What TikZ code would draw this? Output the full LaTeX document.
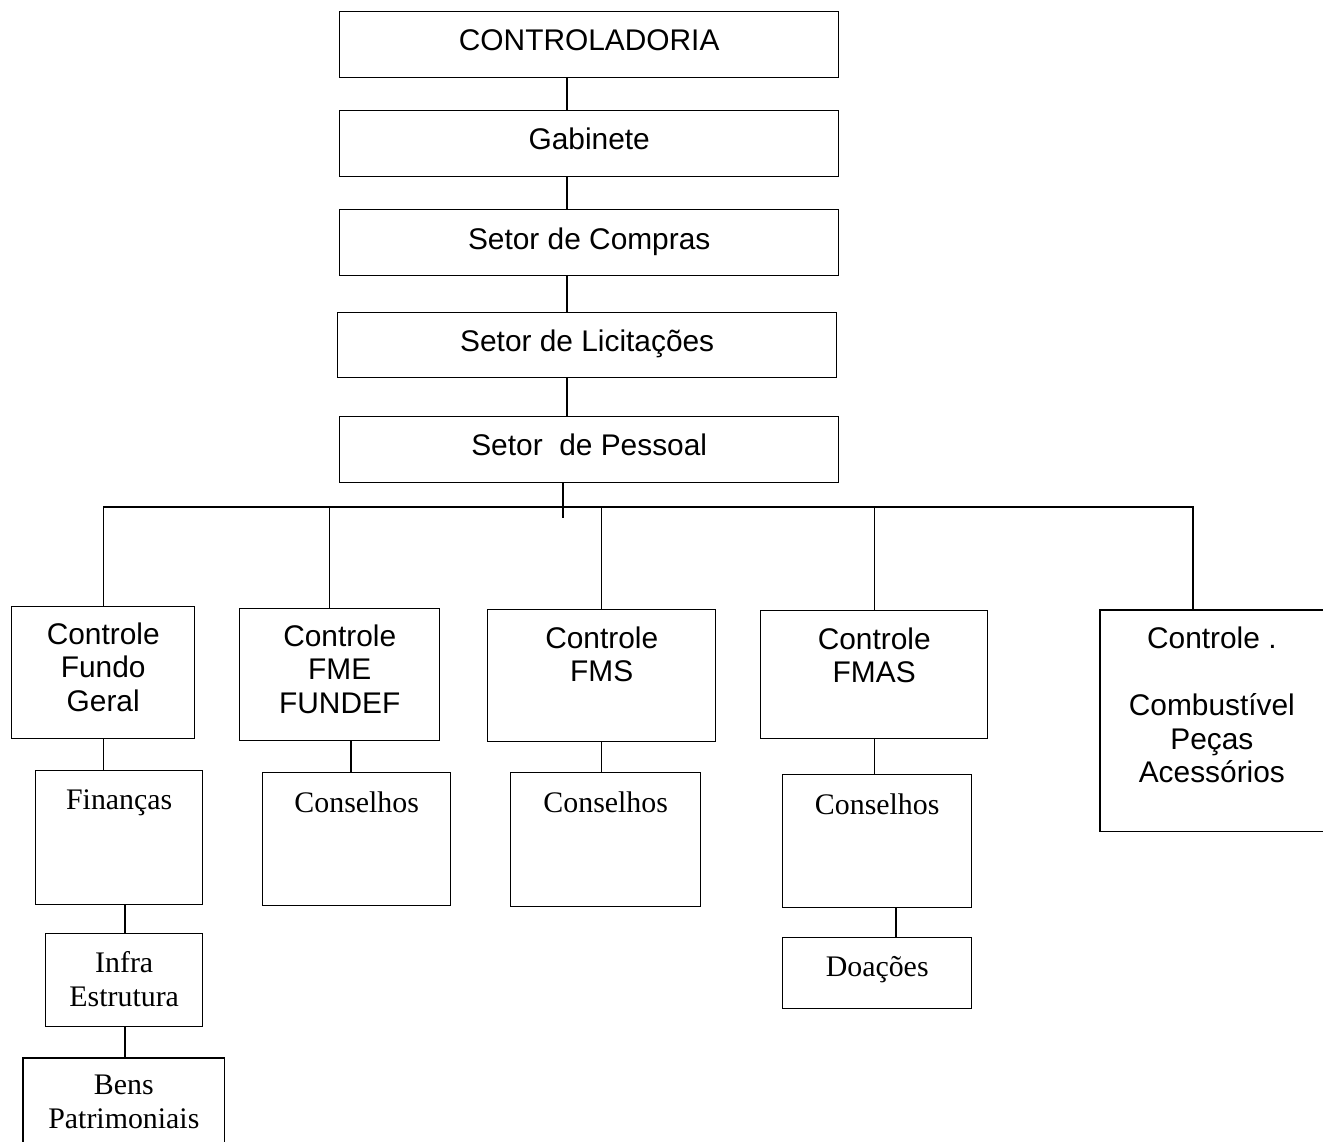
\documentclass[tikz,border=0pt]{standalone}
\usepackage{fontspec}
\setmainfont{Liberation Serif}
\setsansfont{Liberation Sans}
\newlength\pxu
\setlength\pxu{0.02cm}
\newcommand\cellbox[4]{\parbox[c][#2\pxu][t]{#1\pxu}{\centering\vspace*{#3\pxu}#4\par}}
\tikzset{
  orgbox/.style={draw, line width=0.8pt, inner sep=0pt, anchor=north west,
    font=\sffamily\fontsize{17}{19}\selectfont},
  serbox/.style={orgbox, font=\rmfamily\fontsize{17}{19}\selectfont},
  openbox/.style={inner sep=0pt, anchor=north west,
    font=\sffamily\fontsize{17}{19}\selectfont},
  openser/.style={openbox, font=\rmfamily\fontsize{17}{19}\selectfont},
  link/.style={line width=0.8pt}
}
\begin{document}
\begin{tikzpicture}[x=0.02cm, y=-0.02cm]
\useasboundingbox (0,0) rectangle (1323,1142);

% top chain
\node[orgbox] (ctr) at (339,11)  {\cellbox{499}{66}{18}{CONTROLADORIA}};
\node[orgbox] (gab) at (339,110) {\cellbox{499}{66}{17}{Gabinete}};
\node[orgbox] (com) at (339,209) {\cellbox{499}{66}{18}{Setor de Compras}};
\node[orgbox] (lic) at (337,312) {\cellbox{499}{65}{17}{Setor de Licitações}};
\node[orgbox] (pes) at (339,416) {\cellbox{499}{66}{17}{Setor\ \ de Pessoal}};

% first level controls
\node[orgbox] (cfg)  at (11,606)  {\cellbox{183}{132}{16}{Controle\\Fundo\\Geral}};
\node[orgbox] (fme)  at (239,608) {\cellbox{200}{132}{16}{Controle\\FME\\FUNDEF}};
\node[orgbox] (fms)  at (487,609) {\cellbox{228}{132}{17}{Controle\\FMS}};
\node[orgbox] (fmas) at (760,610) {\cellbox{227}{128}{17}{Controle\\FMAS}};
\node[openbox] (ctl) at (1100,610) {\cellbox{223}{221}{17}{Controle .\\[19pt]Combustível\\Peças\\Acessórios}};

% second level
\node[serbox] (fin)   at (35,770)  {\cellbox{167}{134}{19}{Finanças}};
\node[serbox] (con1)  at (262,772) {\cellbox{188}{133}{19}{Conselhos}};
\node[serbox] (con2)  at (510,772) {\cellbox{190}{134}{19}{Conselhos}};
\node[serbox] (con3)  at (782,774) {\cellbox{189}{133}{19}{Conselhos}};
\node[serbox] (doa)   at (782,937) {\cellbox{189}{71}{19}{Doações}};
\node[serbox] (infra) at (45,933)  {\cellbox{157}{93}{18}{Infra\\Estrutura}};
\node[openser] (bens) at (23,1058) {\cellbox{201}{84}{17}{Bens\\Patrimoniais}};

% open-sided boxes
\draw[link] (ctl.north east) -- (ctl.north west) -- (ctl.south west) -- (ctl.south east);
\draw[link] (bens.south west) -- (bens.north west) -- (bens.north east) -- (bens.south east);

% helper coordinates
\coordinate (cx) at (567,0);
\coordinate (bus) at (563,507);
\coordinate (stub) at (563,518);
\coordinate (x351) at (351,0);
\coordinate (x896) at (896,0);
\coordinate (x125) at (125,0);

% top chain connectors
\draw[link] (ctr.south -| cx) -- (gab.north -| cx);
\draw[link] (gab.south -| cx) -- (com.north -| cx);
\draw[link] (com.south -| cx) -- (lic.north -| cx);
\draw[link] (lic.south -| cx) -- (pes.north -| cx);

% bus
\draw[link] (pes.south -| bus) -- (stub);
\draw[link] (cfg.north) |- (bus) -| ([xshift=-19\pxu]ctl.north);
\draw[link] ([xshift=-10\pxu]fme.north) -- ([xshift=-10\pxu]fme.north |- bus);
\draw[link] (fms.north) -- (fms.north |- bus);
\draw[link] (fmas.north) -- (fmas.north |- bus);

% second level connectors
\draw[link] (cfg.south) -- (fin.north -| cfg.south);
\draw[link] (fme.south -| x351) -- (con1.north -| x351);
\draw[link] (fms.south) -- (con2.north -| fms.south);
\draw[link] (fmas.south) -- (con3.north -| fmas.south);
\draw[link] (con3.south -| x896) -- (doa.north -| x896);
\draw[link] (fin.south -| x125) -- (infra.north -| x125);
\draw[link] (infra.south -| x125) -- (bens.north -| x125);
\end{tikzpicture}
\end{document}
